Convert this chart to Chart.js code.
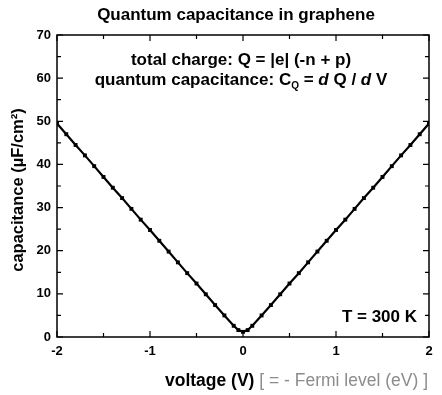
<!DOCTYPE html>
<html>
<head>
<meta charset="utf-8">
<script src="https://cdn.jsdelivr.net/npm/chart.js@4.4.0/dist/chart.umd.min.js"></script>
<style>
  html, body { margin: 0; padding: 0; background: #fff; }
  #wrap { width: 442px; height: 395px; position: relative; }
</style>
</head>
<body>
<div id="wrap"><canvas id="cq-chart"></canvas></div>
<script>
// voltage (V) and quantum capacitance (uF/cm^2)
const voltage = [-2.0, -1.9, -1.8, -1.7, -1.6, -1.5, -1.4, -1.3, -1.2, -1.1, -1.0,
  -0.9, -0.8, -0.7, -0.6, -0.5, -0.4, -0.3, -0.2, -0.1, -0.05, 0.0, 0.05,
  0.1, 0.2, 0.3, 0.4, 0.5, 0.6, 0.7, 0.8, 0.9, 1.0,
  1.1, 1.2, 1.3, 1.4, 1.5, 1.6, 1.7, 1.8, 1.9, 2.0];
const capacitance = [49.5, 47.0, 44.5, 42.1, 39.6, 37.1, 34.6, 32.2, 29.7, 27.2, 24.8,
  22.3, 19.8, 17.3, 14.8, 12.4, 9.9, 7.4, 5.0, 2.6, 1.6, 1.2, 1.6,
  2.6, 5.0, 7.4, 9.9, 12.4, 14.8, 17.3, 19.8, 22.3, 24.8,
  27.2, 29.7, 32.2, 34.6, 37.1, 39.6, 42.1, 44.5, 47.0, 49.5];

const xTicks = [-2, -1, 0, 1, 2];
const xMinor = [-1.5, -0.5, 0.5, 1.5];
const yTicks = [0, 10, 20, 30, 40, 50, 60, 70];
const yMinor = [5, 15, 25, 35, 45, 55, 65];

const FONT = '"Liberation Sans", Arial, sans-serif';

// frame, inward ticks and all the text
const decor = {
  id: 'decor',
  afterDraw(chart) {
    const ctx = chart.ctx;
    const a = chart.chartArea;
    const xs = chart.scales.x, ys = chart.scales.y;
    ctx.save();
    ctx.strokeStyle = '#000';
    ctx.lineWidth = 1.5;
    ctx.strokeRect(a.left, a.top, a.right - a.left, a.bottom - a.top);

    ctx.lineWidth = 1.2;
    ctx.beginPath();
    xTicks.concat(xMinor).forEach(v => {
      const len = xTicks.includes(v) ? 6 : 4;
      const px = xs.getPixelForValue(v);
      ctx.moveTo(px, a.bottom); ctx.lineTo(px, a.bottom - len);
      ctx.moveTo(px, a.top); ctx.lineTo(px, a.top + len);
    });
    yTicks.concat(yMinor).forEach(v => {
      const len = yTicks.includes(v) ? 6 : 4;
      const py = ys.getPixelForValue(v);
      ctx.moveTo(a.left, py); ctx.lineTo(a.left + len, py);
      ctx.moveTo(a.right, py); ctx.lineTo(a.right - len, py);
    });
    ctx.stroke();

    ctx.fillStyle = '#000';
    ctx.font = 'bold 13px ' + FONT;
    ctx.textAlign = 'center';
    ctx.textBaseline = 'top';
    xTicks.forEach(v => ctx.fillText(String(v), xs.getPixelForValue(v), a.bottom + 8));
    ctx.textAlign = 'right';
    ctx.textBaseline = 'middle';
    yTicks.forEach(v => ctx.fillText(String(v), a.left - 6, ys.getPixelForValue(v)));

    // title
    ctx.textAlign = 'center';
    ctx.textBaseline = 'alphabetic';
    ctx.font = 'bold 17px ' + FONT;
    ctx.fillText('Quantum capacitance in graphene', 236, 20);

    // annotations
    ctx.font = 'bold 17px ' + FONT;
    ctx.fillText('total charge: Q = |e| (-n + p)', 241, 65);
    const parts = [
      ['quantum capacitance: C', 'bold 17px ' + FONT, 0],
      ['Q', 'bold 10px ' + FONT, 4],
      [' = ', 'bold 17px ' + FONT, 0],
      ['d', 'italic bold 17px ' + FONT, 0],
      [' Q / ', 'bold 17px ' + FONT, 0],
      ['d', 'italic bold 17px ' + FONT, 0],
      [' V', 'bold 17px ' + FONT, 0]
    ];
    let total = 0;
    parts.forEach(p => { ctx.font = p[1]; total += ctx.measureText(p[0]).width; });
    let cx = 241 - total / 2;
    ctx.textAlign = 'left';
    parts.forEach(p => {
      ctx.font = p[1];
      ctx.fillText(p[0], cx, 85 + p[2]);
      cx += ctx.measureText(p[0]).width;
    });

    ctx.font = 'bold 17px ' + FONT;
    ctx.textAlign = 'right';
    ctx.fillText('T = 300 K', a.right - 12, 322);

    // x axis title
    const t1 = 'voltage (V)', t2 = ' [ = - Fermi level (eV) ]';
    ctx.font = '17.5px ' + FONT;
    const w2 = ctx.measureText(t2).width;
    ctx.fillStyle = '#8c8c8c';
    ctx.fillText(t2, 428, 386);
    ctx.font = 'bold 17.5px ' + FONT;
    ctx.fillStyle = '#000';
    ctx.fillText(t1, 428 - w2, 386);

    // y axis title
    ctx.save();
    ctx.translate(23, 190);
    ctx.rotate(-Math.PI / 2);
    ctx.textAlign = 'center';
    ctx.font = 'bold 16.5px ' + FONT;
    ctx.fillText('capacitance (\u00b5F/cm\u00b2)', 0, 0);
    ctx.restore();
    ctx.restore();
  }
};

const cqCanvas = document.getElementById('cq-chart');
new Chart(cqCanvas, {
  type: 'line',
  data: {
    datasets: [{
      data: voltage.map((v, i) => ({ x: v, y: capacitance[i] })),
      borderColor: '#000',
      backgroundColor: '#000',
      borderWidth: 2.2,
      pointStyle: 'rect',
      pointRadius: 1.2,
      tension: 0
    }]
  },
  options: {
    responsive: true,
    maintainAspectRatio: false,
    animation: false,
    layout: { padding: { left: 57, right: 13, top: 35, bottom: 58 } },
    scales: {
      x: { type: 'linear', min: -2, max: 2, display: false },
      y: { min: 0, max: 70, display: false }
    },
    plugins: {
      legend: { display: false },
      tooltip: { enabled: false }
    }
  },
  plugins: [decor]
});
</script>
</body>
</html>
